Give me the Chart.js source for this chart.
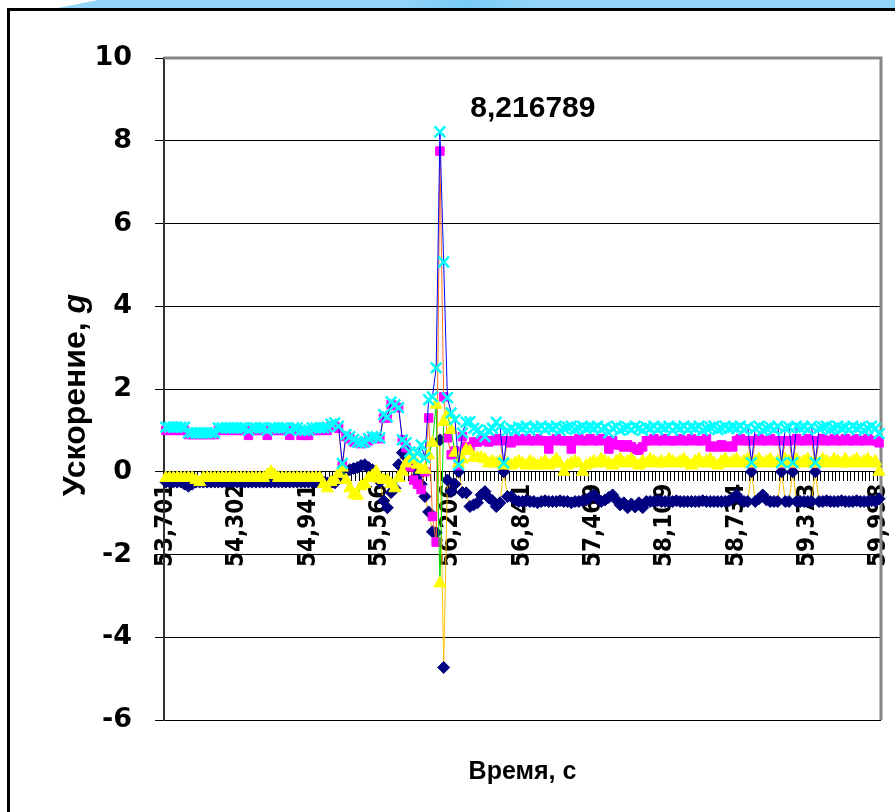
<!DOCTYPE html>
<html>
<head>
<meta charset="utf-8">
<script src="https://cdn.jsdelivr.net/npm/chart.js@4.4.1/dist/chart.umd.min.js"></script>
<style>
  html, body { margin: 0; padding: 0; background: #ffffff; }
  body { width: 895px; height: 812px; position: relative; overflow: hidden; }
  #band { position: absolute; left: 0; top: 0; width: 895px; height: 8px;
          background: linear-gradient(90deg, #93d5f8 0%, #93d5f8 45%, #78caf7 52%, #93d5f8 60%, #93d5f8 100%);
          clip-path: polygon(58px 100%, 98px 0, 100% 0, 100% 100%); }
  #frame { position: absolute; left: 7px; top: 8px; width: 900px; height: 820px;
           border-left: 3px solid #000; border-top: 3px solid #000; box-sizing: border-box; }
  #chart { position: absolute; left: 0; top: 0; }
</style>
</head>
<body>
<div id="band"></div>
<div id="frame"></div>
<canvas id="chart" width="895" height="812"></canvas>
<script>
// Time stamps printed under the axis, one every SAMPLES_PER_LABEL samples
const timeLabels = ['53,701','54,302','54,941','55,566','56,206','56,841','57,469','58,109','58,734','59,373','59,998'];
const SAMPLES_PER_LABEL = 19;

// Acceleration components, g (navy diamonds)
const ax = [
  -0.25,-0.25,-0.25,-0.25,-0.25,-0.3,-0.35,-0.3,-0.25,-0.25,-0.25,-0.25,-0.25,-0.25,-0.25,-0.25,-0.25,-0.25,-0.25,
  -0.25,-0.25,-0.25,-0.25,-0.25,-0.25,-0.25,-0.25,-0.25,-0.25,-0.25,-0.25,-0.25,-0.25,-0.25,-0.25,-0.25,-0.25,-0.25,
  -0.25,-0.25,-0.25,-0.25,-0.25,-0.27,-0.27,-0.27,-0.15,-0.05,0.0,0.05,0.08,0.1,0.15,0.17,0.1,0.05,-0.1,
  -0.24,-0.7,-0.87,-0.5,-0.4,0.17,0.46,0.35,0.24,0.12,-0.1,-0.3,-0.6,-0.97,-1.45,-1.47,0.77,-4.73,-0.2,
  -0.48,-0.3,0.0,-0.5,-0.51,-0.84,-0.8,-0.75,-0.56,-0.48,-0.63,-0.7,-0.84,-0.75,0.0,-0.6,-0.6,-0.68,-0.72,
  -0.72,-0.7,-0.72,-0.72,-0.75,-0.72,-0.7,-0.72,-0.72,-0.72,-0.7,-0.72,-0.72,-0.75,-0.72,-0.72,-0.7,-0.68,-0.62,
  -0.56,-0.65,-0.72,-0.68,-0.62,-0.56,-0.68,-0.8,-0.75,-0.87,-0.78,-0.85,-0.75,-0.87,-0.72,-0.72,-0.72,-0.7,-0.72,
  -0.72,-0.72,-0.72,-0.7,-0.72,-0.72,-0.72,-0.72,-0.72,-0.72,-0.7,-0.72,-0.72,-0.72,-0.72,-0.72,-0.72,-0.7,-0.65,
  -0.56,-0.68,-0.72,-0.72,0.0,-0.72,-0.65,-0.56,-0.68,-0.72,-0.72,-0.72,0.0,-0.72,-0.72,0.0,-0.72,-0.72,-0.72,
  -0.72,-0.72,0.0,-0.72,-0.72,-0.7,-0.72,-0.72,-0.72,-0.7,-0.72,-0.72,-0.72,-0.7,-0.72,-0.72,-0.72,-0.7,-0.72,
  -0.65
];

// magenta squares
const ay = [
  1.0,1.0,1.0,1.0,1.0,1.0,0.9,0.9,0.9,0.9,0.9,0.9,0.9,0.9,1.0,1.0,1.0,1.0,1.0,
  1.0,1.0,1.0,0.88,1.0,1.0,1.0,1.0,0.88,1.0,1.0,1.0,1.0,1.0,0.88,1.0,1.0,0.88,0.88,
  0.88,1.0,1.0,1.0,1.0,1.0,1.1,1.1,1.05,0.15,0.85,0.8,0.72,0.7,0.68,0.7,0.75,0.8,0.82,
  0.8,1.3,1.3,1.62,1.6,1.55,0.77,0.58,0.12,-0.2,-0.3,-0.43,0.0,1.3,-1.08,-1.7,7.75,1.81,0.82,
  0.41,0.5,0.15,0.85,0.6,0.6,0.72,0.72,0.77,0.75,0.72,0.75,0.8,0.75,0.2,0.75,0.7,0.75,0.8,
  0.75,0.8,0.75,0.75,0.8,0.75,0.75,0.55,0.75,0.8,0.75,0.75,0.75,0.55,0.75,0.8,0.75,0.75,0.8,
  0.75,0.75,0.8,0.75,0.55,0.75,0.65,0.65,0.6,0.65,0.6,0.55,0.52,0.6,0.75,0.75,0.8,0.75,0.75,
  0.8,0.75,0.75,0.75,0.8,0.75,0.75,0.8,0.75,0.75,0.75,0.8,0.6,0.62,0.6,0.65,0.6,0.62,0.6,
  0.75,0.8,0.75,0.75,0.2,0.75,0.8,0.75,0.75,0.8,0.75,0.75,0.2,0.75,0.75,0.2,0.8,0.75,0.75,
  0.8,0.75,0.2,0.75,0.8,0.75,0.75,0.8,0.75,0.75,0.8,0.75,0.75,0.8,0.75,0.75,0.8,0.75,0.75,
  0.7
];

// yellow triangles
const az = [
  -0.15,-0.15,-0.15,-0.15,-0.15,-0.15,-0.15,-0.15,-0.2,-0.25,-0.15,-0.15,-0.15,-0.15,-0.15,-0.15,-0.15,-0.15,-0.15,
  -0.15,-0.15,-0.15,-0.15,-0.15,-0.15,-0.15,-0.15,-0.08,0.0,-0.08,-0.15,-0.15,-0.15,-0.15,-0.15,-0.15,-0.15,-0.15,
  -0.15,-0.15,-0.15,-0.15,-0.3,-0.4,-0.25,-0.2,-0.05,0.1,-0.2,-0.4,-0.55,-0.58,-0.35,-0.3,-0.15,-0.1,0.0,
  -0.17,-0.2,-0.2,-0.3,-0.4,-0.15,0.0,0.2,0.34,0.29,0.17,0.05,0.05,0.4,0.7,1.62,-2.7,1.2,1.38,
  1.01,0.46,0.2,0.3,0.53,0.5,0.34,0.34,0.34,0.3,0.2,0.25,0.2,0.25,0.15,0.2,0.15,0.2,0.25,
  0.2,0.15,0.25,0.2,0.15,0.2,0.25,0.15,0.2,0.3,0.2,0.0,0.15,0.2,0.25,0.2,0.0,0.15,0.2,
  0.25,0.2,0.3,0.25,0.2,0.15,0.25,0.3,0.2,0.25,0.3,0.2,0.15,0.25,0.2,0.3,0.25,0.2,0.25,
  0.2,0.3,0.25,0.2,0.25,0.3,0.2,0.15,0.25,0.3,0.2,0.25,0.3,0.2,0.15,0.25,0.3,0.2,0.25,
  0.3,0.2,0.25,0.3,0.2,0.25,0.3,0.2,0.25,0.3,0.2,0.25,0.2,0.3,0.25,0.2,0.3,0.2,0.25,
  0.3,0.2,0.25,0.2,0.3,0.25,0.2,0.3,0.25,0.2,0.3,0.2,0.25,0.3,0.2,0.25,0.3,0.2,0.25,
  0.0
];

// resultant acceleration (cyan crosses)
const aTotal = [
  1.08,1.08,1.08,1.08,1.08,1.08,0.94,0.94,0.94,0.94,0.94,0.94,0.94,0.94,1.06,1.06,1.06,1.06,1.06,
  1.06,1.06,1.06,1.0,1.06,1.06,1.06,1.06,1.0,1.06,1.06,1.06,1.06,1.06,1.0,1.06,1.06,1.0,1.0,
  1.0,1.06,1.06,1.06,1.06,1.08,1.15,1.18,1.1,0.2,0.9,0.85,0.78,0.72,0.7,0.72,0.8,0.85,0.85,
  0.82,1.38,1.33,1.69,1.62,1.55,0.77,0.7,0.48,0.36,0.45,0.65,0.34,1.74,1.81,2.51,8.216789,5.07,1.79,
  1.42,1.26,0.17,0.94,1.2,1.21,1.05,1.01,0.94,0.85,1.0,1.05,1.2,1.1,0.21,1.0,1.05,1.0,1.08,
  1.05,1.1,1.0,1.08,1.05,1.1,1.02,1.08,1.05,1.1,1.0,1.05,1.08,1.1,1.02,1.05,1.1,1.05,1.08,
  1.05,1.1,1.02,1.08,0.94,1.05,1.1,1.0,1.05,1.08,1.02,1.1,1.05,1.0,1.08,1.05,1.1,1.02,1.08,
  1.05,1.1,1.0,1.08,1.05,1.1,1.02,1.08,1.05,1.1,1.0,1.05,1.08,1.1,1.02,1.05,1.1,1.05,1.08,
  1.05,1.1,1.02,1.08,0.22,1.05,1.1,1.0,1.05,1.08,1.02,1.1,0.22,1.05,1.08,0.22,1.1,1.05,1.08,
  1.02,1.1,0.22,1.05,1.08,1.1,1.02,1.05,1.1,1.05,1.08,1.02,1.1,1.05,1.08,1.0,1.05,1.1,1.05,
  0.92
];

const PEAK_LABEL = '8,216789';
const peakIndex = aTotal.indexOf(Math.max(...aTotal));
const sampleIndex = aTotal.map((_, i) => i);

const FAMILY = '"Liberation Sans", Arial, sans-serif';
const TICK_FAMILY = '"DejaVu Sans", Verdana, sans-serif';
const TIME_FAMILY = '"DejaVu Sans Condensed", "DejaVu Sans", sans-serif';

// plot-area frame, value callout and axis titles
const decorations = {
  id: 'decorations',
  beforeDatasetsDraw(chart) {
    const { ctx, chartArea: a } = chart;
    ctx.save();
    ctx.strokeStyle = '#868686';
    ctx.lineWidth = 3;
    ctx.beginPath();
    ctx.moveTo(a.left, a.top);
    ctx.lineTo(a.right, a.top);
    ctx.lineTo(a.right, a.bottom);
    ctx.stroke();
    ctx.restore();
  },
  afterDraw(chart) {
    const { ctx, chartArea: a, scales } = chart;
    ctx.save();
    ctx.fillStyle = '#000';

    // value callout next to the peak
    const px = scales.x.getPixelForValue(peakIndex);
    const py = scales.y.getPixelForValue(aTotal[peakIndex]);
    ctx.font = 'bold 30px ' + FAMILY;
    ctx.textAlign = 'center';
    ctx.textBaseline = 'middle';
    ctx.fillText(PEAK_LABEL, px + 93, py - 23);

    // horizontal axis title
    ctx.font = 'bold 25px ' + FAMILY;
    ctx.fillText('Время, с', (a.left + a.right) / 2, 772);

    // vertical axis title with italic unit
    const main = 'Ускорение, ';
    const unit = 'g';
    const fMain = 'bold 32px ' + FAMILY;
    const fUnit = 'italic bold 32px ' + FAMILY;
    ctx.font = fMain;
    const w1 = ctx.measureText(main).width;
    ctx.font = fUnit;
    const w2 = ctx.measureText(unit).width;
    ctx.translate(76, 395);
    ctx.rotate(-Math.PI / 2);
    ctx.textAlign = 'left';
    ctx.font = fMain;
    ctx.fillText(main, -(w1 + w2) / 2, 0);
    ctx.font = fUnit;
    ctx.fillText(unit, -(w1 + w2) / 2 + w1, 0);
    ctx.restore();
  }
};

function series(data, markerColor, lineColor, style, radius, borderW, order) {
  return {
    data,
    borderColor: lineColor,
    borderWidth: 1,
    pointStyle: style,
    pointRadius: radius,
    pointBackgroundColor: markerColor,
    pointBorderColor: markerColor,
    pointBorderWidth: borderW,
    tension: 0,
    order
  };
}

new Chart(document.getElementById('chart'), {
  type: 'line',
  data: {
    labels: sampleIndex,
    datasets: [
      series(aTotal, '#00FFFF', '#0000FF', 'crossRot', 7.5, 2.5, 1),
      series(az, '#FFFF00', '#00E000', 'triangle', 7, 1, 2),
      series(ay, '#FF00FF', '#FF7020', 'rect', 6, 1, 3),
      series(ax, '#000080', '#FFC000', 'rectRot', 6, 1, 4)
    ]
  },
  options: {
    responsive: false,
    animation: false,
    devicePixelRatio: 1,
    layout: { padding: { left: 0, top: 58, right: 14, bottom: 92 } },
    plugins: { legend: { display: false }, tooltip: { enabled: false } },
    scales: {
      x: {
        type: 'category',
        position: { y: 0 },
        offset: true,
        border: { display: true, color: '#000', width: 1 },
        grid: { drawOnChartArea: false, drawTicks: true, tickLength: 9, color: '#000', lineWidth: 1, offset: true },
        ticks: {
          autoSkip: false,
          minRotation: 90,
          maxRotation: 90,
          padding: 3,
          color: '#000',
          font: { family: TIME_FAMILY, size: 24, weight: 'bold' },
          callback: (v, i) => (i % SAMPLES_PER_LABEL === 0 ? timeLabels[i / SAMPLES_PER_LABEL] : '')
        },
        afterFit(scale) {
          scale.paddingLeft = 0;
          scale.paddingRight = 0;
        }
      },
      y: {
        min: -6,
        max: 10,
        border: { display: true, color: '#303030', width: 2 },
        grid: { color: '#000', lineWidth: 1, tickLength: 9 },
        ticks: {
          stepSize: 2,
          padding: 23,
          color: '#000',
          font: { family: TICK_FAMILY, size: 27, weight: 'bold' }
        },
        afterFit(scale) { scale.width = 164; }
      }
    }
  },
  plugins: [decorations]
});
</script>
</body>
</html>
